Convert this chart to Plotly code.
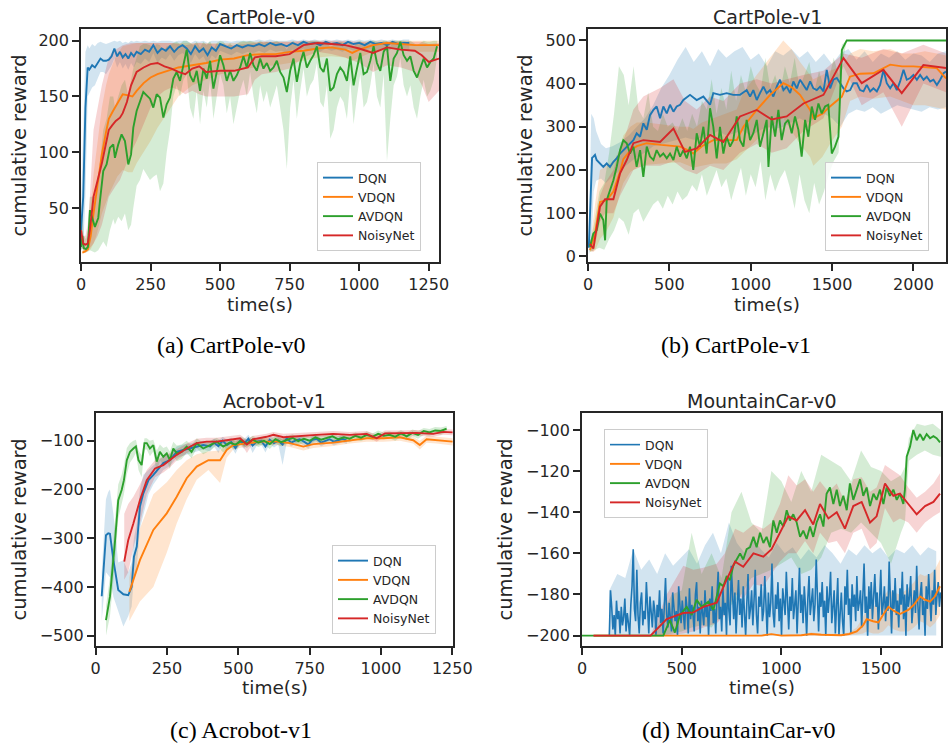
import plotly.graph_objects as go

# ------------------------------------------------------------------
# CartPole-v0
# ------------------------------------------------------------------
cp0_dqn_t = [0, 8, 16, 24, 30, 40, 50, 60, 70, 80,
             90, 100, 110, 120, 130, 140, 150, 160, 170, 180,
             190, 200, 215, 230, 245, 260, 275, 290, 305, 320,
             335, 350, 365, 380, 395, 410, 425, 440, 455, 470,
             485, 500, 520, 540, 560, 580, 600, 620, 640, 660,
             680, 700, 720, 740, 760, 780, 800, 820, 840, 860,
             880, 900, 920, 940, 960, 980, 1000, 1020, 1040, 1060,
             1080, 1100, 1120, 1140, 1160, 1180]
cp0_dqn_mean = [30, 60, 140, 176, 174, 178, 176, 180, 184, 182,
                182, 183, 186, 193, 186, 190, 185, 188, 184, 189,
                186, 190, 188, 192, 190, 196, 189, 193, 191, 195,
                190, 194, 196, 193, 188, 195, 190, 193, 187, 194,
                191, 197, 195, 193, 196, 194, 196, 195, 197, 195,
                198, 196, 197, 195, 198, 196, 199, 197, 198, 196,
                199, 197, 198, 196, 199, 197, 198, 196, 199, 197,
                198, 196, 199, 197, 198, 198]
cp0_dqn_lo = [12, 15, 60, 150, 152, 158, 160, 166, 172, 172,
              170, 174, 178, 184, 176, 181, 175, 179, 174, 180,
              176, 181, 179, 184, 181, 189, 180, 185, 183, 188,
              182, 187, 189, 186, 180, 188, 183, 186, 179, 187,
              184, 191, 189, 187, 190, 188, 190, 189, 191, 189,
              192, 190, 191, 189, 192, 190, 193, 191, 192, 190,
              193, 191, 192, 190, 193, 191, 192, 190, 193, 191,
              192, 190, 193, 191, 192, 192]
cp0_dqn_hi = [50, 120, 190, 196, 193, 197, 195, 198, 199, 198,
              197, 198, 199, 200, 199, 200, 198, 199, 198, 200,
              199, 200, 199, 200, 199, 200, 199, 200, 200, 200,
              199, 200, 200, 200, 198, 200, 199, 200, 198, 200,
              200, 200, 200, 199, 200, 200, 200, 200, 201, 200,
              201, 200, 200, 200, 201, 200, 201, 200, 201, 200,
              201, 200, 201, 200, 201, 200, 201, 200, 201, 200,
              201, 200, 201, 200, 201, 201]

cp0_vdqn_t = [5, 15, 25, 35, 45, 55, 65, 75, 90, 100,
              115, 130, 150, 170, 185, 200, 225, 250, 275, 300,
              350, 400, 450, 500, 550, 600, 650, 700, 750, 800,
              850, 900, 950, 975, 1000, 1050, 1100, 1150, 1200, 1250,
              1287]
cp0_vdqn_mean = [10, 11, 13, 25, 45, 62, 80, 98, 118, 130,
                 137, 143, 152, 151, 150, 155, 162, 167, 170, 172,
                 176, 178, 180, 183, 184, 187, 188, 188, 190, 191,
                 193, 194, 192, 189, 192, 196, 198, 197, 196, 196,
                 196]
cp0_vdqn_lo = [9, 10, 11, 13, 18, 25, 35, 45, 55, 62,
               70, 78, 84, 82, 82, 90, 100, 110, 122, 132,
               150, 160, 165, 170, 172, 175, 177, 178, 180, 182,
               185, 186, 185, 182, 185, 190, 192, 192, 190, 190,
               190]
cp0_vdqn_hi = [12, 14, 20, 50, 80, 100, 120, 140, 160, 170,
               180, 188, 195, 196, 197, 198, 198, 198, 198, 198,
               198, 198, 198, 198, 198, 199, 199, 199, 199, 199,
               199, 199, 199, 198, 199, 200, 200, 200, 200, 200,
               200]

cp0_avdqn_t = [0, 5, 10, 18, 25, 32, 50, 62, 68, 80,
               92, 104, 116, 122, 134, 146, 158, 170, 180, 188,
               200, 212, 224, 236, 248, 260, 272, 284, 296, 308,
               320, 332, 344, 356, 368, 380, 392, 404, 416, 428,
               440, 452, 464, 476, 488, 500, 512, 524, 536, 548,
               560, 572, 584, 596, 608, 620, 632, 644, 656, 668,
               680, 692, 704, 716, 728, 740, 752, 764, 776, 788,
               800, 812, 824, 836, 848, 860, 872, 884, 896, 908,
               920, 932, 944, 956, 968, 980, 992, 1004, 1016, 1028,
               1040, 1052, 1064, 1076, 1088, 1100, 1112, 1124, 1136, 1148,
               1160, 1172, 1184, 1196, 1208, 1220, 1232, 1244, 1256, 1268,
               1280]
cp0_avdqn_mean = [15, 25, 14, 13, 15, 48, 33, 41, 56, 83,
                  89, 104, 107, 95, 107, 116, 110, 89, 98, 122,
                  137, 146, 154, 151, 148, 140, 152, 149, 131, 143,
                  149, 166, 172, 164, 178, 192, 169, 163, 173, 155,
                  175, 166, 182, 157, 172, 187, 178, 164, 173, 164,
                  169, 176, 186, 176, 189, 178, 173, 184, 175, 180,
                  173, 176, 182, 172, 167, 154, 173, 184, 163, 180,
                  190, 176, 182, 187, 195, 176, 172, 184, 155, 158,
                  170, 176, 172, 164, 186, 160, 175, 189, 170, 172,
                  182, 195, 180, 173, 190, 195, 164, 184, 189, 199,
                  187, 182, 186, 173, 167, 175, 184, 176, 181, 184,
                  195]
cp0_avdqn_lo = [12, 14, 10, 10, 11, 12, 10, 12, 15, 20,
                15, 30, 40, 35, 42, 38, 45, 30, 35, 50,
                70, 75, 85, 80, 75, 78, 80, 65, 72, 100,
                120, 150, 160, 150, 165, 170, 140, 130, 155, 125,
                155, 140, 165, 130, 150, 170, 160, 135, 150, 125,
                140, 155, 165, 150, 172, 150, 135, 160, 145, 155,
                140, 150, 160, 140, 120, 85, 140, 165, 130, 155,
                175, 150, 160, 165, 180, 145, 140, 160, 112, 120,
                140, 150, 145, 130, 165, 125, 150, 170, 140, 145,
                160, 180, 150, 140, 170, 92, 130, 160, 168, 185,
                160, 150, 160, 140, 130, 150, 165, 150, 155, 165,
                185]
cp0_avdqn_hi = [30, 45, 25, 22, 30, 60, 60, 70, 90, 120,
                130, 150, 150, 140, 150, 160, 165, 150, 165, 175,
                185, 195, 197, 197, 196, 193, 197, 196, 190, 195,
                196, 198, 199, 197, 200, 200, 198, 196, 199, 194,
                199, 196, 200, 192, 198, 200, 199, 195, 198, 194,
                197, 199, 200, 199, 200, 199, 198, 200, 198, 199,
                198, 199, 200, 198, 196, 192, 198, 200, 195, 199,
                200, 199, 200, 200, 200, 199, 197, 200, 194, 196,
                198, 199, 198, 195, 200, 194, 199, 200, 197, 198,
                200, 200, 199, 198, 200, 200, 195, 200, 200, 200,
                200, 199, 200, 198, 196, 198, 200, 199, 199, 200,
                200]

cp0_noisy_t = [0, 8, 16, 24, 32, 45, 60, 75, 90, 100,
               112, 125, 140, 150, 165, 180, 200, 225, 250, 275,
               300, 325, 350, 375, 400, 425, 450, 500, 550, 600,
               625, 650, 700, 750, 800, 850, 900, 950, 1000, 1050,
               1100, 1150, 1200, 1225, 1250, 1287]
cp0_noisy_mean = [30, 18, 17, 18, 30, 60, 75, 90, 108, 120,
                  124, 128, 131, 135, 145, 160, 172, 176, 179, 180,
                  177, 175, 172, 170, 175, 177, 172, 173, 173, 176,
                  185, 186, 186, 188, 196, 198, 197, 196, 193, 189,
                  194, 192, 191, 187, 181, 184]
cp0_noisy_lo = [15, 12, 12, 12, 14, 18, 25, 35, 50, 60,
                65, 70, 75, 80, 90, 100, 110, 125, 140, 150,
                155, 158, 156, 152, 155, 152, 150, 150, 150, 152,
                165, 170, 172, 175, 185, 190, 188, 185, 180, 172,
                178, 176, 172, 160, 145, 155]
cp0_noisy_hi = [45, 25, 25, 35, 60, 120, 140, 160, 175, 185,
                190, 192, 195, 196, 197, 198, 198, 198, 198, 198,
                198, 198, 197, 196, 197, 198, 197, 197, 196, 197,
                198, 199, 199, 199, 200, 200, 200, 200, 199, 198,
                199, 199, 199, 199, 197, 198]

# ------------------------------------------------------------------
# CartPole-v1
# ------------------------------------------------------------------
cp1_dqn_t = [5, 15, 25, 33, 43, 53, 74, 94, 115, 135,
             156, 176, 197, 238, 279, 299, 320, 340, 361, 381,
             402, 422, 443, 463, 484, 504, 525, 545, 566, 586,
             627, 668, 709, 750, 770, 811, 852, 893, 934, 975,
             996, 1016, 1037, 1057, 1078, 1098, 1119, 1139, 1160, 1180,
             1201, 1221, 1242, 1262, 1283, 1303, 1324, 1344, 1365, 1385,
             1406, 1426, 1447, 1467, 1488, 1508, 1529, 1549, 1570, 1590,
             1611, 1631, 1652, 1672, 1693, 1713, 1734, 1754, 1775, 1795,
             1816, 1836, 1857, 1877, 1898, 1918, 1939, 1959, 1980, 2000,
             2021, 2041, 2062, 2082, 2103, 2123, 2144, 2164, 2185, 2200]
cp1_dqn_mean = [20, 150, 228, 231, 235, 223, 215, 207, 215, 207,
                219, 227, 238, 254, 269, 285, 277, 308, 293, 327,
                339, 347, 320, 347, 331, 351, 335, 347, 351, 362,
                374, 362, 370, 351, 378, 374, 378, 374, 374, 385,
                370, 385, 362, 378, 393, 378, 385, 370, 393, 409,
                385, 393, 378, 405, 389, 409, 397, 385, 405, 389,
                385, 393, 382, 432, 389, 409, 413, 401, 389, 382,
                385, 401, 401, 385, 382, 397, 382, 389, 382, 397,
                432, 401, 389, 401, 385, 405, 432, 409, 413, 420,
                409, 420, 409, 416, 405, 409, 397, 409, 424, 428]
cp1_dqn_band_t = [5, 20, 35, 50, 80, 110, 150, 200, 250, 300,
                  350, 400, 450, 500, 550, 600, 650, 700, 750, 800,
                  850, 900, 950, 1000, 1050, 1100, 1150, 1200, 1250, 1300,
                  1350, 1400, 1450, 1500, 1550, 1600, 1650, 1700, 1750, 1800,
                  1850, 1900, 1950, 2000, 2050, 2100, 2150, 2200]
cp1_dqn_hi = [40, 330, 320, 290, 260, 250, 255, 265, 280, 300,
              320, 350, 390, 420, 455, 485, 450, 475, 440, 480,
              460, 475, 485, 455, 470, 440, 475, 465, 480, 460,
              475, 450, 470, 445, 470, 480, 455, 475, 450, 470,
              460, 475, 455, 470, 465, 450, 470, 475]
cp1_dqn_lo = [5, 20, 150, 175, 180, 170, 185, 200, 215, 230,
              240, 255, 260, 265, 270, 275, 270, 275, 280, 290,
              280, 285, 290, 280, 290, 300, 295, 300, 310, 320,
              310, 320, 330, 320, 300, 330, 340, 335, 345, 330,
              340, 350, 345, 340, 335, 345, 340, 345]

cp1_vdqn_t = [12, 43, 74, 115, 156, 200, 217, 260, 300, 361,
              450, 566, 620, 647, 700, 770, 850, 914, 955, 1037,
              1119, 1200, 1250, 1303, 1365, 1385, 1440, 1487, 1560, 1610,
              1672, 1754, 1857, 1930, 2000, 2070, 2143, 2200]
cp1_vdqn_mean = [14, 53, 126, 130, 150, 200, 225, 245, 255, 262,
                 258, 254, 245, 238, 255, 269, 269, 269, 300, 339,
                 374, 401, 392, 374, 339, 320, 330, 347, 370, 416,
                 423, 424, 444, 440, 440, 438, 436, 412]
cp1_vdqn_lo = [10, 12, 40, 60, 90, 150, 170, 195, 205, 212,
               215, 218, 210, 205, 210, 215, 215, 225, 240, 270,
               300, 320, 290, 260, 230, 210, 230, 260, 300, 360,
               370, 365, 370, 360, 350, 350, 345, 340]
cp1_vdqn_hi = [20, 120, 200, 210, 220, 250, 280, 300, 310, 310,
               305, 300, 300, 295, 310, 320, 330, 340, 380, 420,
               460, 500, 480, 450, 420, 410, 420, 430, 440, 470,
               480, 475, 480, 470, 470, 475, 470, 465]

cp1_avdqn_t = [12, 33, 53, 74, 94, 105, 115, 135, 156, 176,
               197, 217, 238, 258, 279, 299, 320, 340, 361, 381,
               402, 422, 443, 463, 484, 504, 525, 545, 566, 586,
               607, 627, 647, 668, 688, 709, 729, 750, 770, 791,
               811, 832, 852, 873, 893, 914, 934, 955, 975, 996,
               1016, 1037, 1057, 1078, 1098, 1109, 1129, 1150, 1170, 1190,
               1211, 1231, 1252, 1272, 1293, 1313, 1334, 1354, 1375, 1395,
               1416, 1436, 1457, 1477, 1498, 1518, 1539, 1560, 1590, 1700,
               1800, 1900, 2000, 2100, 2200]
cp1_avdqn_mean = [22, 53, 60, 99, 84, 37, 130, 153, 176, 207,
                  246, 269, 262, 238, 254, 207, 246, 184, 254, 231,
                  223, 246, 231, 238, 227, 238, 223, 254, 231, 246,
                  227, 254, 200, 285, 254, 300, 238, 343, 300, 227,
                  300, 238, 277, 254, 269, 324, 269, 254, 316, 269,
                  285, 316, 254, 285, 316, 207, 324, 277, 339, 269,
                  308, 316, 285, 324, 293, 231, 316, 277, 347, 316,
                  354, 331, 347, 351, 238, 254, 277, 478, 500, 500,
                  500, 500, 500, 500, 500]
cp1_avdqn_band_t = [12, 40, 70, 100, 130, 160, 190, 220, 250, 280,
                    310, 340, 370, 400, 430, 460, 490, 520, 550, 580,
                    610, 640, 670, 700, 730, 760, 790, 820, 850, 880,
                    910, 940, 970, 1000, 1030, 1060, 1090, 1120, 1150, 1180,
                    1210, 1240, 1270, 1300, 1330, 1360, 1390, 1420, 1450, 1480,
                    1510, 1540, 1560, 1590, 2200]
cp1_avdqn_hi = [30, 80, 150, 170, 240, 330, 440, 420, 350, 440,
                340, 320, 380, 300, 290, 330, 300, 310, 290, 320,
                290, 330, 300, 360, 340, 410, 330, 390, 340, 430,
                360, 420, 380, 440, 400, 380, 460, 390, 420, 380,
                440, 400, 460, 390, 420, 450, 380, 430, 390, 410,
                460, 420, 490, 500, 500]
cp1_avdqn_lo = [10, 15, 20, 15, 40, 60, 90, 80, 50, 100,
                110, 80, 100, 120, 130, 110, 140, 120, 150, 130,
                140, 165, 150, 190, 140, 170, 200, 160, 180, 130,
                170, 205, 140, 190, 160, 220, 130, 190, 150, 180,
                200, 160, 110, 190, 130, 100, 170, 120, 150, 190,
                220, 240, 440, 500, 500]

cp1_noisy_t = [12, 33, 74, 105, 156, 197, 238, 279, 340, 443,
               525, 596, 668, 750, 832, 934, 1037, 1129, 1221, 1324,
               1447, 1570, 1682, 1815, 1928, 2061, 2200]
cp1_noisy_mean = [29, 18, 115, 132, 132, 192, 223, 262, 269, 265,
                  296, 242, 250, 281, 265, 324, 339, 317, 324, 354,
                  374, 459, 401, 432, 378, 443, 436]
cp1_noisy_lo = [15, 10, 80, 100, 100, 140, 170, 200, 210, 210,
                220, 200, 190, 210, 200, 240, 260, 240, 250, 290,
                320, 440, 350, 380, 300, 400, 380]
cp1_noisy_hi = [40, 30, 140, 170, 200, 250, 290, 340, 370, 390,
                410, 360, 340, 370, 360, 400, 410, 400, 410, 420,
                430, 470, 460, 480, 470, 490, 470]

# ------------------------------------------------------------------
# Acrobot-v1
# ------------------------------------------------------------------
ac_dqn_t = [21, 36, 44, 50, 62, 79, 97, 114, 126, 134,
            144, 155, 167, 185, 202, 220, 237, 260, 284, 307,
            331, 354, 377, 401, 415, 430, 445, 460, 475, 490,
            505, 520, 535, 550, 565, 580, 595, 610, 625, 640,
            655, 670, 685, 700, 715, 730, 745, 760, 775, 790,
            805, 820, 835, 850, 865, 880]
ac_dqn_mean = [-419, -294, -290, -291, -345, -406, -415, -417, -400, -338,
               -317, -235, -208, -181, -170, -157, -146, -140, -123, -119,
               -116, -112, -109, -112, -104, -111, -100, -109, -103, -115,
               -101, -107, -96, -110, -102, -100, -112, -98, -105, -100,
               -108, -95, -104, -100, -97, -102, -108, -98, -96, -104,
               -100, -97, -102, -99, -96, -100]
ac_dqn_hi = [-370, -220, -205, -200, -250, -350, -345, -370, -350, -300,
             -270, -200, -170, -160, -150, -140, -132, -128, -112, -108,
             -106, -103, -100, -102, -96, -100, -92, -98, -94, -103,
             -94, -97, -88, -100, -94, -92, -102, -90, -96, -92,
             -98, -88, -96, -93, -90, -94, -99, -91, -89, -96,
             -93, -90, -94, -92, -89, -93]
ac_dqn_lo = [-470, -370, -375, -380, -420, -450, -481, -460, -440, -380,
             -360, -280, -250, -210, -190, -175, -160, -152, -135, -130,
             -126, -122, -118, -122, -112, -125, -108, -120, -112, -127,
             -108, -117, -104, -125, -110, -108, -124, -106, -114, -108,
             -150, -102, -112, -107, -104, -110, -117, -105, -103, -112,
             -107, -104, -110, -106, -103, -107]

ac_vdqn_t = [118, 155, 202, 249, 284, 319, 354, 395, 436, 459,
             482, 529, 576, 634, 681, 728, 763, 833, 891, 950,
             1008, 1066, 1113, 1136, 1160, 1195, 1230, 1251]
ac_vdqn_mean = [-410, -345, -283, -249, -215, -177, -153, -140, -140, -119,
                -109, -105, -102, -102, -105, -112, -107, -104, -99, -95,
                -95, -93, -99, -109, -97, -99, -101, -102]
ac_vdqn_hi = [-380, -280, -210, -185, -160, -140, -128, -122, -120, -105,
              -100, -98, -95, -95, -97, -104, -99, -97, -92, -88,
              -88, -86, -92, -100, -90, -92, -94, -95]
ac_vdqn_lo = [-470, -430, -400, -330, -270, -220, -180, -160, -187, -135,
              -118, -112, -109, -109, -113, -120, -115, -111, -106, -102,
              -102, -100, -106, -118, -104, -106, -108, -110]

ac_avdqn_t = [36, 50, 68, 79, 91, 99, 109, 120, 132, 141,
              150, 161, 171, 179, 190, 202, 214, 225, 237, 249,
              260, 272, 284, 301, 319, 336, 354, 377, 401, 424,
              447, 470, 490, 510, 530, 550, 570, 590, 610, 630,
              650, 670, 690, 710, 730, 750, 770, 790, 810, 830,
              850, 870, 890, 910, 930, 950, 970, 990, 1010, 1030,
              1050, 1070, 1090, 1110, 1130, 1150, 1170, 1190, 1210, 1230]
ac_avdqn_mean = [-468, -420, -304, -222, -201, -181, -140, -123, -116, -112,
                 -140, -150, -105, -105, -116, -109, -143, -123, -133, -126,
                 -140, -116, -126, -123, -112, -123, -105, -116, -109, -102,
                 -112, -104, -108, -100, -106, -98, -104, -100, -107, -97,
                 -103, -99, -94, -101, -96, -100, -93, -98, -95, -91,
                 -97, -93, -96, -90, -94, -88, -92, -86, -90, -88,
                 -92, -85, -91, -84, -88, -80, -83, -79, -80, -75]
ac_avdqn_hi = [-440, -380, -260, -190, -170, -150, -115, -105, -100, -98,
               -120, -130, -95, -95, -100, -98, -120, -108, -115, -112,
               -122, -102, -110, -108, -100, -110, -95, -104, -100, -94,
               -102, -96, -99, -92, -98, -90, -96, -92, -98, -89,
               -95, -91, -87, -93, -89, -92, -86, -90, -88, -84,
               -90, -86, -89, -83, -87, -81, -85, -79, -83, -81,
               -84, -78, -84, -77, -80, -74, -76, -72, -73, -70]
ac_avdqn_lo = [-500, -460, -350, -260, -230, -210, -170, -145, -135, -125,
               -160, -175, -118, -118, -132, -122, -168, -140, -150, -140,
               -158, -130, -142, -138, -125, -136, -116, -128, -120, -110,
               -124, -113, -118, -108, -115, -106, -113, -108, -117, -105,
               -112, -107, -101, -109, -104, -108, -100, -106, -102, -98,
               -104, -100, -103, -97, -101, -95, -99, -93, -97, -95,
               -100, -92, -99, -91, -96, -88, -90, -86, -88, -82]

ac_noisy_t = [100, 114, 132, 155, 179, 208, 237, 260, 284, 319,
              354, 389, 424, 459, 506, 530, 552, 599, 623, 658,
              716, 774, 833, 891, 950, 985, 1014, 1066, 1125, 1183,
              1218, 1251]
ac_noisy_mean = [-348, -304, -270, -222, -181, -157, -150, -140, -129, -116,
                 -105, -102, -102, -99, -95, -108, -97, -92, -88, -93,
                 -90, -88, -86, -88, -86, -95, -85, -85, -84, -86,
                 -82, -83]
ac_noisy_hi = [-250, -230, -215, -190, -160, -140, -133, -125, -118, -106,
               -96, -94, -94, -92, -88, -98, -90, -86, -82, -86,
               -84, -82, -80, -82, -80, -88, -79, -79, -78, -80,
               -76, -77]
ac_noisy_lo = [-385, -370, -320, -270, -210, -175, -165, -155, -140, -126,
               -114, -110, -110, -106, -102, -125, -104, -98, -94, -100,
               -96, -94, -92, -94, -92, -102, -91, -91, -90, -92,
               -88, -89]

# ------------------------------------------------------------------
# MountainCar-v0
# ------------------------------------------------------------------
mc_dqn_t = list(range(137, 1800, 6))
mc_dqn_mean = [-200, -178, -186, -197, -190, -200, -183, -192, -188, -199,
               -186, -195, -191, -182, -198, -189, -194, -200, -185, -176,
               -158, -187, -193, -168, -190, -199, -184, -179, -195, -188,
               -192, -174, -186, -199, -181, -190, -196, -183, -188, -200,
               -185, -191, -178, -194, -187, -199, -180, -172, -190, -196,
               -184, -191, -198, -179, -186, -193, -188, -200, -176, -189,
               -194, -183, -190, -197, -181, -187, -199, -177, -192, -185,
               -190, -198, -180, -174, -193, -186, -199, -183, -189, -195,
               -178, -191, -185, -200, -182, -188, -176, -194, -187, -199,
               -181, -169, -192, -186, -198, -177, -190, -184, -200, -171,
               -188, -195, -166, -183, -192, -179, -199, -185, -173, -190,
               -182, -196, -176, -189, -200, -184, -170, -192, -187, -178,
               -195, -183, -168, -190, -199, -181, -186, -175, -193, -188,
               -171, -185, -200, -179, -191, -184, -165, -189, -196, -180,
               -187, -174, -193, -182, -200, -177, -186, -190, -169, -184,
               -197, -181, -188, -172, -192, -185, -178, -199, -183, -167,
               -189, -180, -194, -176, -186, -200, -182, -171, -190, -184,
               -177, -193, -185, -163, -188, -198, -179, -186, -174, -191,
               -183, -200, -176, -189, -181, -169, -194, -186, -178, -199,
               -184, -172, -200, -187, -179, -193, -200, -176, -185, -168,
               -190, -182, -199, -175, -186, -180, -193, -171, -188, -184,
               -178, -196, -183, -165, -189, -181, -200, -176, -187, -174,
               -192, -183, -170, -186, -179, -197, -182, -168, -190, -185,
               -176, -193, -181, -188, -164, -184, -199, -178, -187, -172,
               -190, -183, -196, -177, -185, -169, -192, -180, -200, -175,
               -186, -181, -171, -194, -184, -178, -189, -166, -185, -197,
               -180, -174, -190, -183, -200, -176, -187, -170, -182, -193,
               -178, -185, -168, -190, -181, -174, -186, -179]
mc_dqn_band_t = list(range(137, 1800, 40))
mc_dqn_hi = [-178, -170, -172, -158, -168, -163, -170, -160, -166, -162,
             -158, -165, -156, -150, -160, -145, -155, -160, -152, -158,
             -162, -155, -160, -157, -163, -158, -162, -156, -160, -165,
             -158, -161, -156, -160, -157, -162, -158, -160, -156, -161,
             -157, -159]
mc_dqn_lo = [-200, -200, -200, -200, -200, -200, -200, -200, -200, -200,
             -200, -200, -200, -200, -200, -200, -200, -200, -200, -200,
             -200, -200, -200, -200, -200, -200, -200, -200, -200, -200,
             -200, -200, -200, -200, -200, -200, -200, -200, -200, -200,
             -200, -200]

mc_vdqn_t = [60, 300, 600, 900, 950, 1000, 1100, 1150, 1200, 1300,
             1340, 1378, 1410, 1428, 1460, 1487, 1510, 1537, 1565, 1595,
             1637, 1665, 1696, 1720, 1746, 1770, 1796]
mc_vdqn_mean = [-200, -200, -200, -200, -199.3, -200, -199.8, -199.2, -199.6, -199.8,
                -199.2, -198, -195, -192, -193, -193.6, -190, -186, -188, -189.5,
                -187.5, -185, -181, -182.5, -183.5, -181, -176]
mc_vdqn_hi = [-200, -200, -200, -200, -199, -199.5, -199.3, -198.5, -199, -199.2,
              -198.5, -196, -191, -187, -186, -184, -181, -178, -179, -180,
              -177, -174, -170, -171, -170, -168, -163]
mc_vdqn_lo = [-200, -200, -200, -200, -199.6, -200, -200, -199.8, -200, -200,
              -200, -199.5, -199, -198, -199, -199, -198, -195, -197, -198,
              -198, -196, -193, -194, -196, -194, -190]

mc_avdqn_t = [0, 60, 200, 358, 408, 441, 466, 492, 525, 550,
              575, 600, 634, 659, 676, 692, 709, 726, 742, 759,
              776, 793, 809, 826, 843, 860, 876, 893, 910, 926,
              943, 960, 977, 993, 1010, 1027, 1043, 1060, 1077, 1094,
              1110, 1127, 1144, 1160, 1177, 1194, 1211, 1227, 1244, 1261,
              1278, 1294, 1311, 1328, 1344, 1361, 1378, 1395, 1411, 1428,
              1445, 1462, 1478, 1495, 1512, 1528, 1545, 1562, 1579, 1595,
              1612, 1620, 1629, 1646, 1662, 1679, 1696, 1712, 1729, 1746,
              1763, 1779, 1796]
mc_avdqn_mean = [-200, -200, -200, -200, -200, -192.5, -198.5, -190, -186, -190,
                 -182.6, -186, -183.5, -187.5, -181, -174.6, -176, -171, -173, -166,
                 -163, -160, -163, -158, -157, -152, -157, -150, -155, -152,
                 -157, -144, -150, -144, -147, -139, -144, -141, -145, -152,
                 -149, -153, -147, -152, -145, -141, -147, -131, -128, -136,
                 -129, -137, -132, -139, -126, -134, -129, -124, -132, -128,
                 -137, -131, -134, -129, -136, -128, -132, -129, -134, -131,
                 -136, -129, -113, -108, -100, -105, -102, -105, -102, -104,
                 -103, -104, -106]
mc_avdqn_band_t = [0, 358, 400, 450, 500, 550, 600, 650, 700, 750,
                   800, 850, 900, 950, 1000, 1050, 1100, 1150, 1200, 1250,
                   1300, 1350, 1400, 1450, 1500, 1550, 1600, 1620, 1640, 1680,
                   1720, 1760, 1800]
mc_avdqn_hi = [-200, -200, -190, -180, -178, -150, -170, -160, -172, -140,
               -130, -145, -150, -120, -125, -135, -120, -130, -112, -115,
               -118, -125, -110, -118, -120, -125, -122, -118, -104, -97,
               -98, -97, -100]
mc_avdqn_lo = [-200, -200, -200, -199, -198, -196, -195, -196, -190, -185,
               -180, -172, -170, -168, -165, -162, -170, -168, -162, -150,
               -148, -150, -145, -150, -155, -165, -150, -145, -115, -112,
               -110, -112, -113]

mc_noisy_t = [57, 150, 250, 344, 425, 508, 559, 609, 676, 717,
              768, 809, 860, 910, 951, 993, 1035, 1077, 1119, 1160,
              1194, 1236, 1278, 1319, 1361, 1403, 1445, 1478, 1520, 1562,
              1595, 1637, 1679, 1721, 1763, 1796]
mc_noisy_mean = [-200, -200, -200, -200, -192, -189, -188.7, -186, -184, -174.6,
                 -164, -166.5, -160, -161.6, -158, -150, -142, -144, -139, -146,
                 -136, -143, -140, -148, -137, -135, -145, -142, -126, -132,
                 -131, -136, -141, -137, -135, -131]
mc_noisy_hi = [-200, -200, -200, -200, -180, -166, -168, -167, -165, -160,
               -148, -150, -146, -148, -145, -136, -122, -127, -124, -130,
               -125, -130, -126, -135, -124, -123, -130, -128, -117, -120,
               -122, -128, -133, -130, -126, -121]
mc_noisy_lo = [-200, -200, -200, -200, -200, -199, -198, -196, -194, -190,
               -180, -182, -175, -176, -170, -164, -160, -160, -154, -160,
               -150, -155, -154, -160, -150, -148, -158, -155, -138, -145,
               -143, -145, -150, -145, -142, -140]

# ------------------------------------------------------------------
# Styling
# ------------------------------------------------------------------
W, H = 948, 750
TEXT = "#262626"
FONT = "DejaVu Sans"
COLORS = {"DQN": (31, 119, 180), "VDQN": (255, 127, 14),
          "AVDQN": (44, 160, 44), "NoisyNet": (214, 39, 40)}
METHODS = ["DQN", "VDQN", "AVDQN", "NoisyNet"]

# panel layout in pixels: box = (left, right, top, bottom); legend_xy = top-right corner
PANELS = [
    dict(box=(81, 439, 29, 262), xr=[0, 1287], yr=[1.5, 210.5],
         xt=[0, 250, 500, 750, 1000, 1250], yt=[50, 100, 150, 200],
         title="CartPole-v0", caption="(a) CartPole-v0", cap_x=231, cap_y=345,
         ylab_x=19, legend_xy=(421, 162)),
    dict(box=(588, 946, 29, 262), xr=[0, 2200], yr=[-13.2, 526.5],
         xt=[0, 500, 1000, 1500, 2000], yt=[0, 100, 200, 300, 400, 500],
         title="CartPole-v1", caption="(b) CartPole-v1", cap_x=736, cap_y=345,
         ylab_x=525, legend_xy=(929, 162)),
    dict(box=(95.7, 453.3, 413.3, 645.7), xr=[0, 1253.5], yr=[-520.5, -43.8],
         xt=[0, 250, 500, 750, 1000, 1250], yt=[-500, -400, -300, -200, -100],
         title="Acrobot-v1", caption="(c) Acrobot-v1", cap_x=241, cap_y=730,
         ylab_x=19, legend_xy=(436, 545)),
    dict(box=(582, 941, 413.3, 645.7), xr=[0, 1801], yr=[-204.9, -91.9],
         xt=[0, 500, 1000, 1500], yt=[-200, -180, -160, -140, -120, -100],
         title="MountainCar-v0", caption="(d) MountainCar-v0", cap_x=738, cap_y=730,
         ylab_x=505, legend_xy=(708, 429)),
]

SERIES = [
    {  # CartPole-v0
        "DQN": (cp0_dqn_t, cp0_dqn_mean, cp0_dqn_t, cp0_dqn_lo, cp0_dqn_hi),
        "VDQN": (cp0_vdqn_t, cp0_vdqn_mean, cp0_vdqn_t, cp0_vdqn_lo, cp0_vdqn_hi),
        "AVDQN": (cp0_avdqn_t, cp0_avdqn_mean, cp0_avdqn_t, cp0_avdqn_lo, cp0_avdqn_hi),
        "NoisyNet": (cp0_noisy_t, cp0_noisy_mean, cp0_noisy_t, cp0_noisy_lo, cp0_noisy_hi),
    },
    {  # CartPole-v1
        "DQN": (cp1_dqn_t, cp1_dqn_mean, cp1_dqn_band_t, cp1_dqn_lo, cp1_dqn_hi),
        "VDQN": (cp1_vdqn_t, cp1_vdqn_mean, cp1_vdqn_t, cp1_vdqn_lo, cp1_vdqn_hi),
        "AVDQN": (cp1_avdqn_t, cp1_avdqn_mean, cp1_avdqn_band_t, cp1_avdqn_lo, cp1_avdqn_hi),
        "NoisyNet": (cp1_noisy_t, cp1_noisy_mean, cp1_noisy_t, cp1_noisy_lo, cp1_noisy_hi),
    },
    {  # Acrobot-v1
        "DQN": (ac_dqn_t, ac_dqn_mean, ac_dqn_t, ac_dqn_lo, ac_dqn_hi),
        "VDQN": (ac_vdqn_t, ac_vdqn_mean, ac_vdqn_t, ac_vdqn_lo, ac_vdqn_hi),
        "AVDQN": (ac_avdqn_t, ac_avdqn_mean, ac_avdqn_t, ac_avdqn_lo, ac_avdqn_hi),
        "NoisyNet": (ac_noisy_t, ac_noisy_mean, ac_noisy_t, ac_noisy_lo, ac_noisy_hi),
    },
    {  # MountainCar-v0
        "DQN": (mc_dqn_t, mc_dqn_mean, mc_dqn_band_t, mc_dqn_lo, mc_dqn_hi),
        "VDQN": (mc_vdqn_t, mc_vdqn_mean, mc_vdqn_t, mc_vdqn_lo, mc_vdqn_hi),
        "AVDQN": (mc_avdqn_t, mc_avdqn_mean, mc_avdqn_band_t, mc_avdqn_lo, mc_avdqn_hi),
        "NoisyNet": (mc_noisy_t, mc_noisy_mean, mc_noisy_t, mc_noisy_lo, mc_noisy_hi),
    },
]


def px_x(x):
    return x / W


def px_y(y):
    return 1 - y / H


fig = go.Figure()
layout = dict(width=W, height=H,
              margin=dict(l=0, r=0, t=0, b=0, pad=0, autoexpand=False),
              paper_bgcolor="white", plot_bgcolor="white", annotations=[])

for i, (panel, series) in enumerate(zip(PANELS, SERIES), start=1):
    sfx = "" if i == 1 else str(i)
    xa, ya = "x" + sfx, "y" + sfx
    leg = "legend" + sfx
    left, right, top, bottom = panel["box"]

    axis_style = dict(showline=True, linecolor=TEXT, linewidth=1.7, mirror=True,
                      ticks="outside", ticklen=7, tickwidth=1.6, tickcolor=TEXT,
                      showgrid=False, zeroline=False, automargin=False,
                      tickfont=dict(family=FONT, size=16, color=TEXT))
    layout["xaxis" + sfx] = dict(axis_style, domain=[px_x(left), px_x(right)],
                                 range=panel["xr"], tickvals=panel["xt"], anchor=ya)
    layout["yaxis" + sfx] = dict(axis_style, domain=[px_y(bottom), px_y(top)],
                                 range=panel["yr"], tickvals=panel["yt"], anchor=xa)

    lx, ly = panel["legend_xy"]
    layout[leg] = dict(x=px_x(lx), y=px_y(ly), xanchor="right", yanchor="top",
                       bgcolor="rgba(255,255,255,0.8)", bordercolor="#cccccc",
                       borderwidth=1, itemwidth=30, tracegroupgap=0,
                       font=dict(family=FONT, size=12.5, color=TEXT))

    # shaded spread of each method
    for m in METHODS:
        t, mean, bt, lo, hi = series[m]
        if not (len(t) == len(mean) and len(bt) == len(lo) == len(hi)):
            raise ValueError(f"length mismatch in panel {i} / {m}")
        r, g, b = COLORS[m]
        fig.add_trace(go.Scatter(
            x=list(bt) + list(bt)[::-1], y=list(hi) + list(lo)[::-1],
            fill="toself", fillcolor=f"rgba({r},{g},{b},0.2)",
            line=dict(width=0), mode="lines", hoverinfo="skip",
            showlegend=False, xaxis=xa, yaxis=ya))

    # mean curves
    for m in METHODS:
        t, mean, _, _, _ = series[m]
        r, g, b = COLORS[m]
        width = 1.6 if (i == 4 and m == "DQN") else 1.9
        fig.add_trace(go.Scatter(
            x=t, y=mean, mode="lines", name=m,
            line=dict(color=f"rgb({r},{g},{b})", width=width),
            xaxis=xa, yaxis=ya, legend=leg, showlegend=True))

    cx = (left + right) / 2
    ann = layout["annotations"]
    ann.append(dict(text=panel["title"], x=px_x(cx), y=px_y(top - 12.5),
                    xref="paper", yref="paper", xanchor="center", yanchor="middle",
                    showarrow=False, font=dict(family=FONT, size=19, color=TEXT)))
    ann.append(dict(text="time(s)", x=px_x(cx), y=px_y(bottom + 42),
                    xref="paper", yref="paper", xanchor="center", yanchor="middle",
                    showarrow=False, font=dict(family=FONT, size=18.5, color=TEXT)))
    ann.append(dict(text="cumulative reward", x=px_x(panel["ylab_x"]),
                    y=px_y((top + bottom) / 2), textangle=-90,
                    xref="paper", yref="paper", xanchor="center", yanchor="middle",
                    showarrow=False, font=dict(family=FONT, size=19.5, color=TEXT)))
    ann.append(dict(text=panel["caption"], x=px_x(panel["cap_x"]), y=px_y(panel["cap_y"]),
                    xref="paper", yref="paper", xanchor="center", yanchor="middle",
                    showarrow=False,
                    font=dict(family="Liberation Serif", size=24, color="black")))

fig.update_layout(**layout)
fig.write_html("out.html")
